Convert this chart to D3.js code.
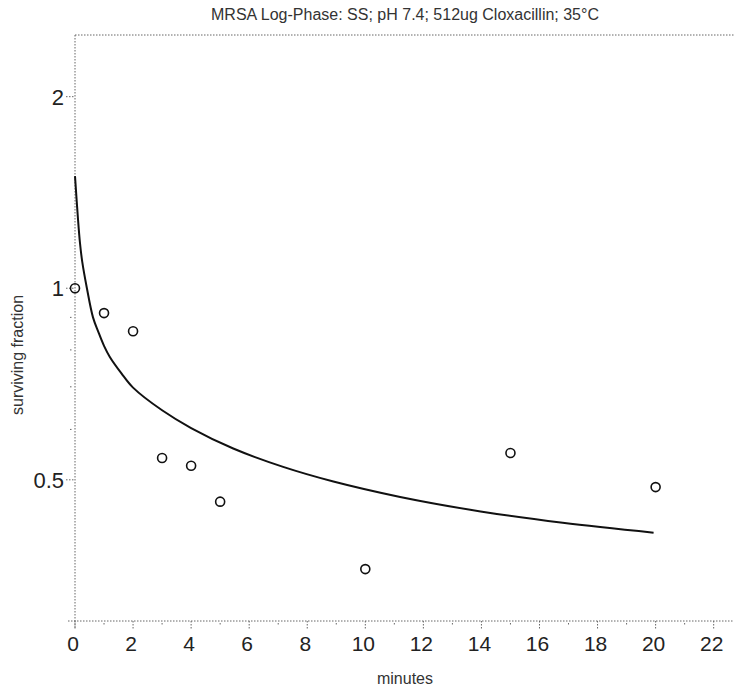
<!DOCTYPE html>
<html>
<head>
<meta charset="utf-8">
<script src="https://cdn.jsdelivr.net/npm/d3@7"></script>
<style>
body{margin:0;background:#fff;}
svg{display:block;font-family:"Liberation Sans",Arial,sans-serif;}
</style>
</head>
<body>
<svg id="chart" width="734" height="693"></svg>
<script>
// Data
const obsMinutes = [0, 1, 2, 3, 4, 5, 10, 15, 20];
const obsFraction = [1.0, 0.914, 0.856, 0.541, 0.526, 0.462, 0.362, 0.551, 0.487];
const fitMinutes = [0, 0.1, 0.17, 0.25, 0.41, 0.62, 0.8, 1.0, 1.2, 1.6, 2, 3, 4, 5.45, 7.17, 8.9, 11.2, 13.97, 16.8, 19.93];
const fitFraction = [1.50, 1.29, 1.18, 1.10, 1.00, 0.90, 0.855, 0.812, 0.780, 0.735, 0.698, 0.643, 0.603, 0.560, 0.524, 0.497, 0.470, 0.446, 0.428, 0.413];
const xTicks = [0, 2, 4, 6, 8, 10, 12, 14, 16, 18, 20, 22];
const xMinorTicks = [1, 3, 5, 7, 9, 11, 13, 15, 17, 19, 21];
const yTicks = [2, 1, 0.5];
const yTickLabels = ["2", "1", "0.5"];
const yMinorTicks = [0.9, 0.8, 0.7, 0.6];
const titleText = "MRSA Log-Phase: SS; pH 7.4; 512ug Cloxacillin; 35°C";
const xTitle = "minutes";
const yTitle = "surviving fraction";

(function () {
const svg = d3.select("#chart");
const L = 75, R = 734, T = 35, B = 621;
const x = d3.scaleLinear().domain([0, 22.7]).range([L, R]);
const y = d3.scaleLog().domain([0.3, 2.5]).range([B, T]);

const dotted = sel => sel.attr("stroke", "#666").attr("stroke-width", 1).attr("stroke-dasharray", "1.5,1.5").attr("fill", "none");

// frame
svg.append("line").attr("x1", L).attr("x2", R).attr("y1", T).attr("y2", T).call(dotted);
svg.append("line").attr("x1", L).attr("x2", L).attr("y1", T).attr("y2", B + 8).call(dotted);
svg.append("line").attr("x1", L - 7).attr("x2", R).attr("y1", B).attr("y2", B).call(dotted);

// x axis ticks
const gx = svg.append("g");
gx.selectAll("line.maj").data(xTicks).join("line").attr("class", "maj")
  .attr("x1", d => x(d)).attr("x2", d => x(d)).attr("y1", B).attr("y2", B + 9).call(dotted);
gx.selectAll("line.min").data(xMinorTicks).join("line").attr("class", "min")
  .attr("x1", d => x(d)).attr("x2", d => x(d)).attr("y1", B + 2).attr("y2", B + 5).call(dotted);
gx.selectAll("text").data(xTicks).join("text")
  .attr("x", d => x(d) - 2).attr("y", 651).attr("text-anchor", "middle")
  .attr("font-size", 21).attr("fill", "#222").text(d => d);

// y axis ticks
const gy = svg.append("g");
gy.selectAll("line.maj").data(yTicks).join("line").attr("class", "maj")
  .attr("x1", L - 9).attr("x2", L).attr("y1", d => y(d)).attr("y2", d => y(d)).call(dotted);
gy.selectAll("line.min").data(yMinorTicks).join("line").attr("class", "min")
  .attr("x1", L - 5).attr("x2", L - 2).attr("y1", d => y(d)).attr("y2", d => y(d)).call(dotted);
gy.selectAll("text").data(yTicks).join("text")
  .attr("x", L - 11).attr("y", d => y(d) + 8).attr("text-anchor", "end")
  .attr("font-size", 22).attr("fill", "#222").text((d, i) => yTickLabels[i]);

// fitted curve
const line = d3.line().x(d => x(d[0])).y(d => y(d[1])).curve(d3.curveCatmullRom.alpha(0.5));
svg.append("path").datum(fitMinutes.map((t, i) => [t, fitFraction[i]]))
  .attr("d", line).attr("fill", "none").attr("stroke", "#111").attr("stroke-width", 2);

// observations
svg.selectAll("circle.obs").data(obsMinutes.map((t, i) => [t, obsFraction[i]])).join("circle")
  .attr("class", "obs").attr("cx", d => x(d[0])).attr("cy", d => y(d[1])).attr("r", 4.5)
  .attr("fill", "none").attr("stroke", "#111").attr("stroke-width", 1.6);

// titles
svg.append("text").attr("x", 405).attr("y", 20).attr("text-anchor", "middle")
  .attr("font-size", 16).attr("fill", "#333").text(titleText);
svg.append("text").attr("x", 405).attr("y", 684).attr("text-anchor", "middle")
  .attr("font-size", 16).attr("fill", "#333").text(xTitle);
svg.append("text").attr("transform", "translate(23,355) rotate(-90)").attr("text-anchor", "middle")
  .attr("font-size", 16).attr("fill", "#333").text(yTitle);
})();
</script>
</body>
</html>
